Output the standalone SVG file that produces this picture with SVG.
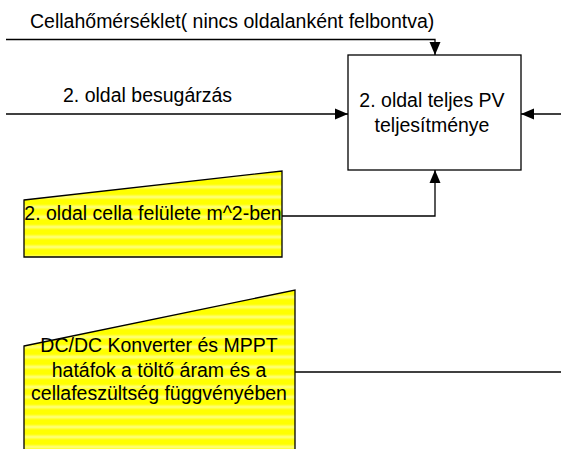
<svg xmlns="http://www.w3.org/2000/svg" width="561" height="449" viewBox="0 0 561 449">
<style>
text{font-family:"Liberation Sans",Arial,sans-serif;font-size:19.5px;fill:#000}
.ln{fill:none;stroke:#000;stroke-width:1.3}
.shape{fill:url(#stripes);stroke:#000;stroke-width:1.3}
.box{fill:#fff;stroke:#000;stroke-width:1.3}
</style>
<defs>
<linearGradient id="band" x1="0" y1="0" x2="0" y2="1">
<stop offset="0" stop-color="#ffff00"/>
<stop offset="0.5" stop-color="#ffff80"/>
<stop offset="1" stop-color="#ffff00"/>
</linearGradient>
<pattern id="stripes" patternUnits="userSpaceOnUse" width="20" height="10">
<rect width="20" height="10" fill="#ffff00"/>
<rect y="4" width="20" height="6" fill="url(#band)"/>
</pattern>
<marker id="arr" markerUnits="userSpaceOnUse" markerWidth="14" markerHeight="12" refX="13" refY="6" orient="auto">
<path d="M0,0.5 L13,6 L0,11.5 Z" fill="#000"/>
</marker>
</defs>
<g id="connectors">
<path class="ln" d="M6,39.5 H435 V55" marker-end="url(#arr)"/>
<path class="ln" d="M6,114 H348" marker-end="url(#arr)"/>
<path class="ln" d="M561,114 H521" marker-end="url(#arr)"/>
<path class="ln" d="M282,216 H435 V170" marker-end="url(#arr)"/>
<path class="ln" d="M295,372 H561"/>
</g>
<g id="label-cellahomerseklet">
<text x="30" y="27.7">Cellahőmérséklet( nincs oldalanként felbontva)</text>
</g>
<g id="label-besugarzas">
<text x="63" y="101.7">2. oldal besugárzás</text>
</g>
<g id="node-pv">
<rect class="box" x="348" y="55" width="173" height="115"/>
<text x="432" y="106.7" text-anchor="middle">2. oldal teljes PV</text>
<text x="432" y="131.7" text-anchor="middle">teljesítménye</text>
</g>
<g id="node-felulet">
<path class="shape" d="M24,200 L282,171 L282,257 L24,257 Z"/>
<text x="153" y="220" text-anchor="middle">2. oldal cella felülete m^2-ben</text>
</g>
<g id="node-dcdc">
<path class="shape" d="M24,346 L295,290 L295,460 L24,460 Z"/>
<text x="159" y="351.7" text-anchor="middle">DC/DC Konverter és MPPT</text>
<text x="159" y="376.7" text-anchor="middle">hatáfok a töltő áram és a</text>
<text x="159" y="400" text-anchor="middle">cellafeszültség függvényében</text>
</g>
</svg>
